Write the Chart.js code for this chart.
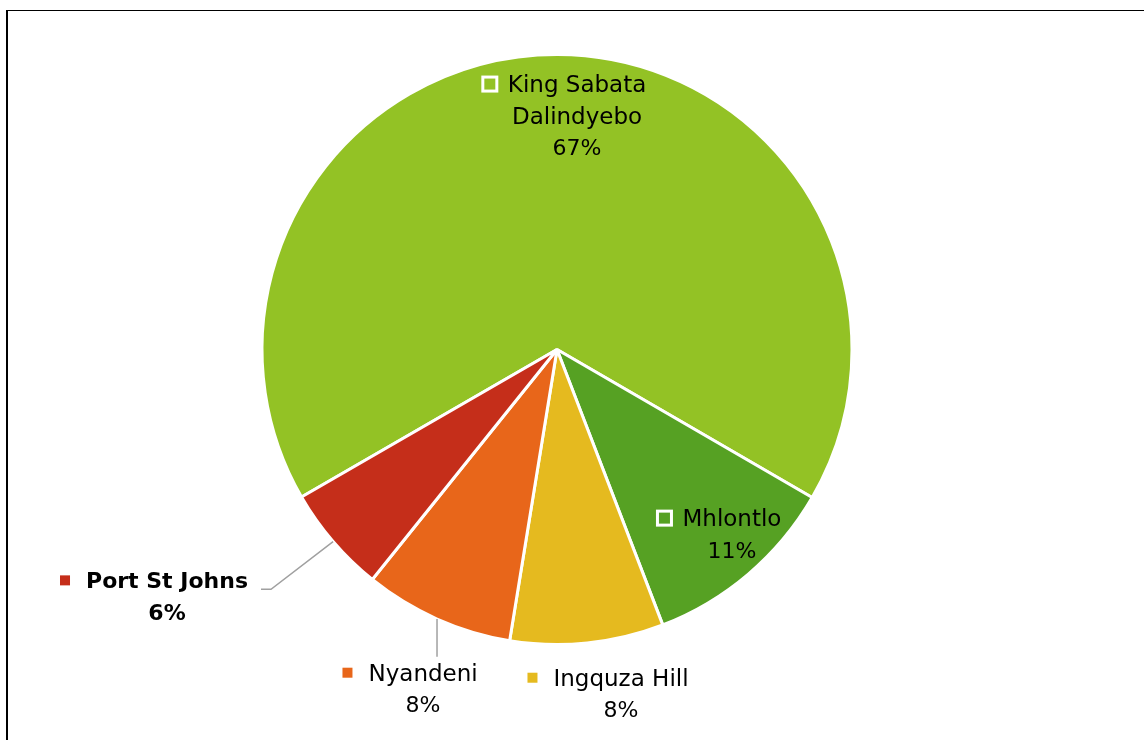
<!DOCTYPE html>
<html>
<head>
<meta charset="utf-8">
<script src="https://cdn.jsdelivr.net/npm/chart.js@4/dist/chart.umd.min.js"></script>
<style>
  html, body { margin: 0; padding: 0; background: #fff; }
  #wrap { position: relative; width: 1144px; height: 740px; }
</style>
</head>
<body>
<div id="wrap"><canvas id="pie"></canvas></div>
<script>
// Share of households per local municipality
const districts = ['King Sabata Dalindyebo', 'Mhlontlo', 'Ingquza Hill', 'Nyandeni', 'Port St Johns'];
const shares = [66.7, 10.8, 8.4, 8.2, 5.9];
const sliceColors = ['#93C225', '#56A123', '#E5BA1F', '#E8661A', '#C52E1A'];

// label text broken into lines (the long name wraps)
const labelLines = [['King Sabata', 'Dalindyebo'], ['Mhlontlo'], ['Ingquza Hill'], ['Nyandeni'], ['Port St Johns']];

const nameFont = '23px "DejaVu Sans", sans-serif';
const boldFont = 'bold 22px "DejaVu Sans", sans-serif';
const pctFont = '22px "DejaVu Sans", sans-serif';
const lineGap = 31.5;

// where each label sits, in units of the pie radius from its centre
const labelSpots = [
    { dx: 0.068, dy: -0.793, hollow: true },
    { dx: 0.593, dy: 0.625, hollow: true },
    { dx: 0.217, dy: 1.166 },
    { dx: -0.454, dy: 1.149, leader: 'down' },
    { dx: -1.322, dy: 0.836, bold: true, leader: 'elbow' }
];

const frame = {
    id: 'frame',
    beforeDraw: (chart) => {
        const ctx = chart.ctx;
        ctx.save();
        ctx.fillStyle = '#000';
        ctx.fillRect(6, 10, 2, chart.height - 10);
        ctx.fillRect(6, 10, chart.width - 6, 1);
        ctx.restore();
    }
};

const sliceLabels = {
    id: 'sliceLabels',
    afterDatasetsDraw: (chart) => {
        const ctx = chart.ctx;
        const meta = chart.getDatasetMeta(0);
        const values = chart.data.datasets[0].data;
        const total = values.reduce((a, b) => a + b, 0);

        meta.data.forEach((arc, i) => {
            const spot = labelSpots[i];
            const r = arc.outerRadius;
            const cx = arc.x + spot.dx * r;
            const cy = arc.y + spot.dy * r;
            const lines = labelLines[i].concat([Math.round(values[i] / total * 100) + '%']);
            const firstY = cy - (lines.length - 1) * lineGap / 2;

            ctx.save();
            ctx.fillStyle = '#000';
            ctx.textAlign = 'center';
            ctx.textBaseline = 'alphabetic';
            lines.forEach((t, k) => {
                const isPct = k === lines.length - 1;
                ctx.font = spot.bold ? boldFont : (isPct ? pctFont : nameFont);
                ctx.fillText(t, cx, firstY + k * lineGap + 8);
            });

            // legend key in front of the first line
            ctx.font = spot.bold ? boldFont : nameFont;
            const w = ctx.measureText(lines[0]).width;
            const left = cx - w / 2;
            ctx.fillStyle = sliceColors[i];
            if (spot.hollow) {
                ctx.strokeStyle = '#fff';
                ctx.lineWidth = 3;
                ctx.fillRect(left - 25, firstY - 7, 14, 14);
                ctx.strokeRect(left - 25, firstY - 7, 14, 14);
            } else {
                ctx.fillRect(left - 26, firstY - 5, 10, 10);
            }

            // leader lines for labels outside the pie
            const mid = (arc.startAngle + arc.endAngle) / 2;
            const ex = arc.x + Math.cos(mid) * r;
            const ey = arc.y + Math.sin(mid) * r;
            ctx.strokeStyle = '#A0A0A0';
            ctx.lineWidth = 1.5;
            if (spot.leader === 'elbow') {
                const sx = cx + w / 2 + 13;
                const sy = firstY + 9;
                ctx.beginPath();
                ctx.moveTo(sx, sy);
                ctx.lineTo(sx + 10, sy);
                ctx.lineTo(ex, ey);
                ctx.stroke();
            } else if (spot.leader === 'down') {
                ctx.beginPath();
                ctx.moveTo(ex, ey);
                ctx.lineTo(ex, firstY - 16);
                ctx.stroke();
            }
            ctx.restore();
        });
    }
};

new Chart(document.getElementById('pie'), {
    type: 'pie',
    data: {
        labels: districts,
        datasets: [{
            data: shares,
            backgroundColor: sliceColors,
            borderColor: '#fff',
            borderWidth: 3
        }]
    },
    options: {
        responsive: true,
        maintainAspectRatio: false,
        animation: false,
        rotation: 240,
        layout: { padding: { top: 53, bottom: 94, left: 200, right: 230 } },
        plugins: {
            legend: { display: false },
            tooltip: { enabled: false }
        }
    },
    plugins: [frame, sliceLabels]
});
</script>
</body>
</html>
